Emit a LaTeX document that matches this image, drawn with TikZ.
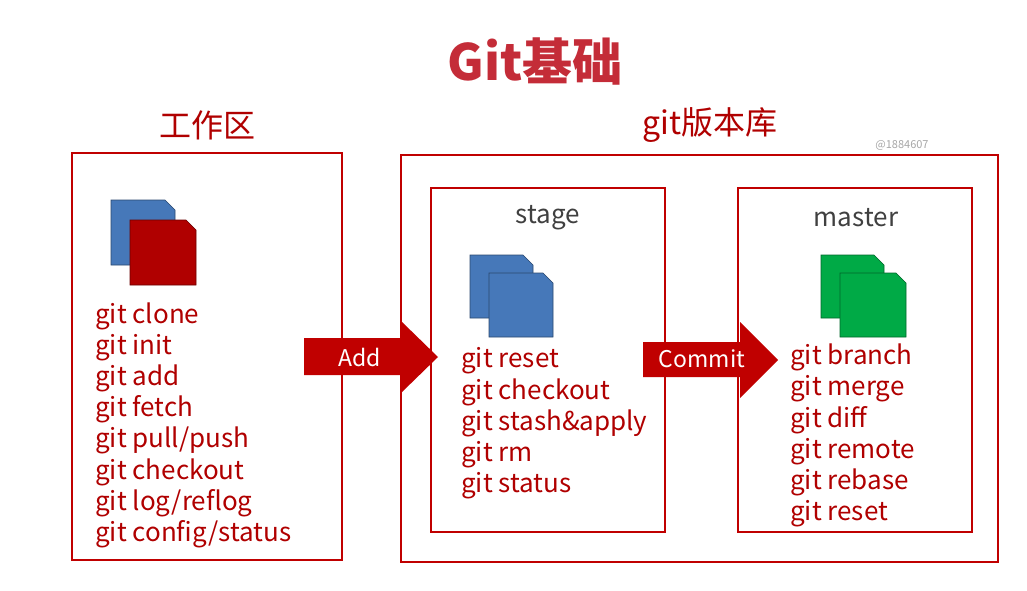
\documentclass[tikz,border=0pt]{standalone}
\usepackage{fontspec}
\setmainfont{Noto Sans CJK SC}
\definecolor{dred}{RGB}{176,0,0}
\definecolor{bred}{RGB}{192,0,0}
\definecolor{ttl}{RGB}{196,44,56}
\definecolor{dblue}{RGB}{70,120,185}
\definecolor{dgreen}{RGB}{0,170,70}
\begin{document}
\begin{tikzpicture}[x=1pt,y=-1pt,
 box/.style={draw=bred,line width=2.5pt},
 cmd/.style={anchor=west,text=dred,font=\fontsize{26}{26}\selectfont,inner sep=0},
 hdr/.style={text=dred,font=\fontsize{32}{32}\selectfont},
 sub/.style={text=black!75,font=\fontsize{26}{26}\selectfont},
 arr/.style={fill=bred,draw=none},
 alab/.style={text=white,font=\fontsize{23}{23}\selectfont}]
\useasboundingbox (0,0) rectangle (1027,591);
\newcommand{\doc}[5]{\fill[#5,draw=#5!60!black,line width=0.6pt] (#1,#2) -- ({#3-10},#2) -- (#3,{#2+10}) -- (#3,#4) -- (#1,#4) -- cycle;}
\node[text=ttl,font=\bfseries\fontsize{50}{50}\selectfont] (title) at (535,62) {Git基础};
\node[hdr] (h1) at (207,125) {工作区};
\node[hdr] (h2) at (710,125) {git版本库};
\node[text=black!35,font=\fontsize{11}{11}\selectfont] (wm) at (902,145) {@1884607};
\draw[box] (72,153) rectangle (342,560);
\draw[box] (401,155) rectangle (998,562);
\draw[box] (431,188) rectangle (665,532);
\draw[box] (738,188) rectangle (972,532);
\node[sub] (st) at (548,218) {stage};
\node[sub] (ms) at (856,218) {master};
\doc{111}{200}{175}{265}{dblue}
\doc{130}{220}{196}{285}{dred}
\doc{470}{255}{533}{318}{dblue}
\doc{489}{273}{553}{337}{dblue}
\doc{821}{255}{884}{318}{dgreen}
\doc{840}{273}{906}{337}{dgreen}
\foreach \t [count=\i] in {git clone,git init,git add,git fetch,git pull/push,git checkout,git log/reflog,git config/status}
  \node[cmd] (w\i) at (95,{316+31.2*(\i-1)}) {\t};
\foreach \t [count=\i] in {git reset,git checkout,git stash\&apply,git rm,git status}
  \node[cmd] (s\i) at (461,{361+31.2*(\i-1)}) {\t};
\foreach \t [count=\i] in {git branch,git merge,git diff,git remote,git rebase,git reset}
  \node[cmd] (m\i) at (790,{357+31.4*(\i-1)}) {\t};
\fill[arr] (304,338) -- (402,338) -- (402,322) -- (438,357) -- (402,392) -- (402,375) -- (304,375) -- cycle;
\node[alab] (add) at (360,357) {Add};
\fill[arr] (643,342) -- (740,342) -- (740,322) -- (778,360) -- (740,398) -- (740,377) -- (643,377) -- cycle;
\node[alab] (cm) at (702,359) {Commit};
\end{tikzpicture}
\end{document}
